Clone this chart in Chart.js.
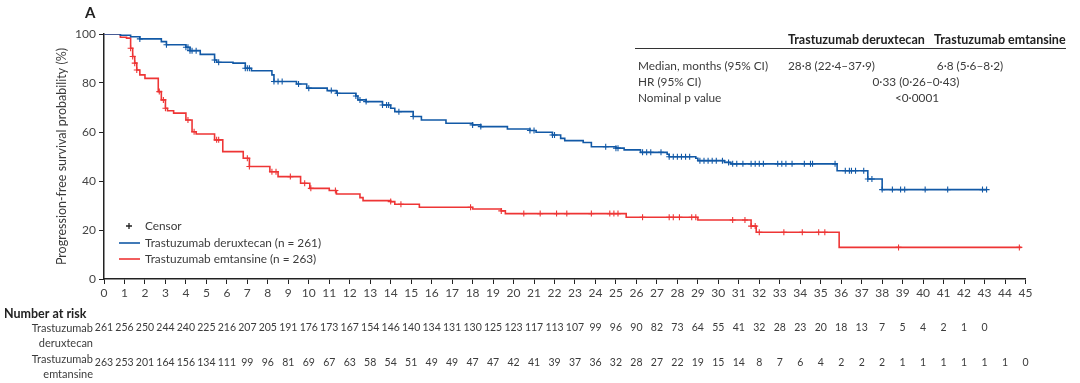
<!DOCTYPE html>
<html>
<head>
<meta charset="utf-8">
<script src="https://cdn.jsdelivr.net/npm/chart.js@4.4.1/dist/chart.umd.min.js"></script>
<style>
html,body{margin:0;padding:0;background:#fff;}
#wrap{position:relative;width:1080px;height:383px;}
canvas{display:block;}
</style>
</head>
<body>
<div id="wrap"><canvas id="c" width="1080" height="383"></canvas></div>
<script>
// ---- Data ----
const derTimes = [0,0.8,1.3,1.75,2.8,3.05,4.0,4.2,4.7,5.4,5.5,6.3,6.9,7.2,8.2,8.3,9.4,9.9,10.9,11.35,12.3,12.4,12.8,13.6,14.0,14.2,15.1,15.5,16.7,18.0,18.4,19.7,20.8,21.1,21.9,22.3,22.5,23.4,23.8,25.0,25.4,26.2,27.5,27.6,28.9,29.0,30.3,30.6,35.8,37.3,38.0,43.1];
const derSurv  = [100,99.5,98.9,98.0,96.9,95.6,94.6,93.2,91.7,89.4,88.5,88.1,86.0,85.0,83.3,80.6,79.6,77.9,76.9,75.8,74.7,73.1,72.4,71.0,69.7,68.3,66.3,64.9,63.6,62.9,62.2,61.2,60.6,59.9,58.8,57.4,56.5,55.7,54.0,53.4,52.7,51.7,50.9,49.9,49.3,48.3,47.6,47.0,44.2,40.8,36.5,36.5];
const emtTimes = [0,0.8,1.1,1.3,1.4,1.5,1.6,1.75,2.0,2.65,2.8,3.0,3.1,3.4,4.0,4.3,4.5,5.4,5.8,6.8,7.1,8.1,8.5,9.6,10.05,11.0,11.35,12.5,12.65,14.0,14.2,15.4,18.0,19.4,19.6,25.5,29.0,31.6,31.85,35.9,44.8];
const emtSurv  = [100,98.7,98.3,94.2,90.8,88.1,85.3,83.3,81.9,76.5,73.1,69.7,68.7,67.7,64.9,60.1,59.2,56.8,52.0,49.3,45.9,43.8,41.8,39.1,37.0,36.1,34.7,33.2,32.0,31.6,30.5,29.3,28.6,27.8,26.7,25.2,24.1,21.6,19.1,12.9,12.9];
const derCensor = [1.75,3.05,4.0,4.1,4.2,4.3,4.5,5.4,5.6,6.9,7.0,7.1,8.3,8.5,8.7,9.5,10.0,11.1,11.4,12.3,12.5,12.8,13.6,13.8,13.9,14.4,15.1,18.0,18.4,20.8,21.0,21.9,22.0,24.5,25.0,25.1,26.3,26.5,26.7,27.2,27.6,27.8,28.0,28.2,28.4,28.6,29.1,29.3,29.5,29.7,29.9,30.2,30.5,30.7,30.9,31.2,31.6,31.8,32.0,32.2,32.9,33.1,33.3,33.6,34.2,34.5,34.6,35.7,36.2,36.4,36.5,36.7,37.1,37.3,37.5,38.0,38.5,38.9,39.1,40.1,41.2,42.9,43.1];
const emtCensor = [1.3,1.4,1.5,1.6,2.7,2.9,3.0,4.1,4.4,5.5,5.6,7.0,7.1,8.2,8.4,9.1,9.8,10.1,11.3,14.0,14.5,17.9,19.4,20.5,21.3,22.1,22.6,23.8,24.7,24.9,25.1,26.3,27.6,27.8,28.1,28.7,28.9,30.7,31.3,31.6,31.8,32.0,33.2,34.1,34.9,35.2,38.8,44.7];
const riskTimes = [0,1,2,3,4,5,6,7,8,9,10,11,12,13,14,15,16,17,18,19,20,21,22,23,24,25,26,27,28,29,30,31,32,33,34,35,36,37,38,39,40,41,42,43,44,45];
const derRisk = [261,256,250,244,240,225,216,207,205,191,176,173,167,154,146,140,134,131,130,125,123,117,113,107,99,96,90,82,73,64,55,41,32,28,23,20,18,13,7,5,4,2,1,0];
const emtRisk = [263,253,201,164,156,134,111,99,96,81,69,67,63,58,54,51,49,49,47,47,42,41,39,37,36,32,28,27,22,19,15,14,8,7,6,4,2,2,2,1,1,1,1,1,1,0];
const seriesNames = ['Trastuzumab deruxtecan (n = 261)','Trastuzumab emtansine (n = 263)'];
const statHeaders = ['Trastuzumab deruxtecan','Trastuzumab emtansine'];
const statRows = [
  ['Median, months (95% CI)','28·8 (22·4–37·9)','6·8 (5·6–8·2)'],
  ['HR (95% CI)','0·33 (0·26–0·43)'],
  ['Nominal p value','<0·0001']
];

const BLUE = '#1259a6', RED = '#ee3535', TXT = '#3b3b3b';
const FONT = 'Lato, "Open Sans", sans-serif';

function km(times, surv){ return times.map((t,i)=>({x:t,y:surv[i]})); }
function survAt(times, surv, t){ let v = surv[0]; for(let i=0;i<times.length;i++){ if(times[i]<=t+1e-9) v=surv[i]; } return v; }
function censorPts(ct, times, surv){ return ct.map(t=>({x:t,y:survAt(times,surv,t)})); }

Chart.defaults.font.family = FONT;

const overlay = {
  id:'overlay',
  afterDraw(chart){
    const ctx = chart.ctx, xs = chart.scales.x;
    ctx.save();
    ctx.fillStyle = '#222';
    ctx.font = 'bold 15px ' + FONT;
    ctx.textBaseline = 'middle';
    ctx.textAlign = 'left';
    ctx.fillText('A', 85, 13);

    // legend
    ctx.font = '11.8px ' + FONT;
    ctx.fillStyle = TXT;
    ctx.strokeStyle = '#222'; ctx.lineWidth = 1.3;
    ctx.beginPath(); ctx.moveTo(126,226); ctx.lineTo(132,226); ctx.moveTo(129,223); ctx.lineTo(129,229); ctx.stroke();
    ctx.fillText('Censor', 145, 226);
    const legendY = [243, 259], cols = [BLUE, RED];
    for(let i=0;i<2;i++){
      ctx.strokeStyle = cols[i]; ctx.lineWidth = 1.6;
      ctx.beginPath(); ctx.moveTo(119, legendY[i]); ctx.lineTo(140, legendY[i]); ctx.stroke();
      ctx.fillText(seriesNames[i], 145, legendY[i]);
    }

    // stats table
    ctx.font = 'bold 12.5px ' + FONT;
    ctx.fillStyle = '#222';
    ctx.fillText(statHeaders[0], 788, 40);
    ctx.fillText(statHeaders[1], 934, 40);
    ctx.strokeStyle = '#333'; ctx.lineWidth = 1;
    ctx.beginPath(); ctx.moveTo(635, 48.5); ctx.lineTo(1066, 48.5); ctx.stroke();
    ctx.font = '11.8px ' + FONT;
    ctx.fillStyle = TXT;
    const rowY = [66, 82, 98];
    ctx.fillText(statRows[0][0], 638, rowY[0]);
    ctx.fillText(statRows[0][1], 788, rowY[0]);
    ctx.textAlign = 'center';
    ctx.fillText(statRows[0][2], 970, rowY[0]);
    ctx.textAlign = 'left';
    ctx.fillText(statRows[1][0], 638, rowY[1]);
    ctx.textAlign = 'center';
    ctx.fillText(statRows[1][1], 916, rowY[1]);
    ctx.textAlign = 'left';
    ctx.fillText(statRows[2][0], 638, rowY[2]);
    ctx.textAlign = 'center';
    ctx.fillText(statRows[2][1], 917, rowY[2]);

    // number at risk
    ctx.textAlign = 'left';
    ctx.font = 'bold 12.5px ' + FONT;
    ctx.fillStyle = '#222';
    ctx.fillText('Number at risk', 4, 314);
    ctx.font = '11px ' + FONT;
    ctx.fillStyle = TXT;
    ctx.textAlign = 'right';
    ctx.fillText('Trastuzumab', 93, 328);
    ctx.fillText('deruxtecan', 93, 343);
    ctx.fillText('Trastuzumab', 93, 359);
    ctx.fillText('emtansine', 93, 374);
    ctx.textAlign = 'center';
    ctx.font = '10.5px ' + FONT;
    derRisk.forEach((v,i)=>{ ctx.fillText(String(v), xs.getPixelForValue(riskTimes[i]), 328); });
    emtRisk.forEach((v,i)=>{ ctx.fillText(String(v), xs.getPixelForValue(riskTimes[i]), 363); });
    ctx.restore();
  }
};

new Chart(document.getElementById('c'), {
  type:'line',
  data:{
    datasets:[
      {label:'deruxtecan', data:km(derTimes, derSurv), borderColor:BLUE, borderWidth:1.6, stepped:true, pointRadius:0, fill:false},
      {label:'emtansine', data:km(emtTimes, emtSurv), borderColor:RED, borderWidth:1.6, stepped:true, pointRadius:0, fill:false},
      {label:'der censor', type:'scatter', data:censorPts(derCensor, derTimes, derSurv), showLine:false, pointStyle:'cross', pointRadius:3, borderColor:BLUE, borderWidth:1.1, backgroundColor:BLUE},
      {label:'emt censor', type:'scatter', data:censorPts(emtCensor, emtTimes, emtSurv), showLine:false, pointStyle:'cross', pointRadius:3, borderColor:RED, borderWidth:1.1, backgroundColor:RED}
    ]
  },
  options:{
    responsive:false, animation:false, devicePixelRatio:1,
    layout:{padding:{left:0, top:34, right:54.5, bottom:0}},
    plugins:{legend:{display:false}, tooltip:{enabled:false}},
    scales:{
      x:{type:'linear', min:0, max:45,
        ticks:{stepSize:1, autoSkip:false, maxRotation:0, color:'#444', font:{size:12}, padding:2},
        grid:{drawOnChartArea:false, drawTicks:true, tickLength:5, color:'#222', lineWidth:1},
        border:{display:true, color:'#222', width:1.5},
        afterFit(s){ s.height = 104; }
      },
      y:{type:'linear', min:0, max:100,
        ticks:{stepSize:20, color:'#444', font:{size:12}, padding:3},
        grid:{drawOnChartArea:false, drawTicks:true, tickLength:5, color:'#222', lineWidth:1},
        border:{display:true, color:'#222', width:1.5},
        title:{display:true, text:'Progression-free survival probability (%)', color:TXT, font:{size:12.5}, padding:{top:54, bottom:0}},
        afterFit(s){ s.width = 104; }
      }
    }
  },
  plugins:[overlay]
});
</script>
</body>
</html>
